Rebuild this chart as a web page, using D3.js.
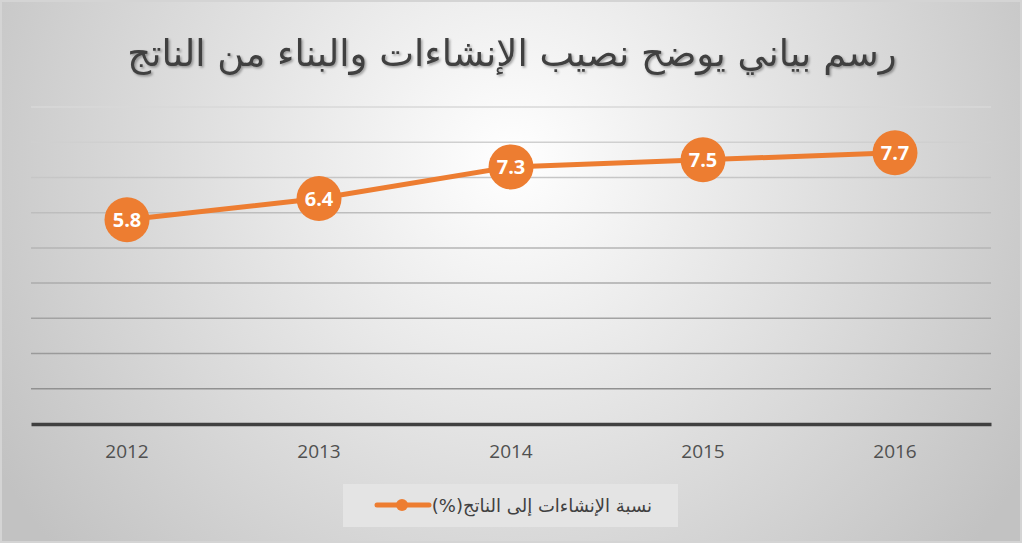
<!DOCTYPE html>
<html><head><meta charset="utf-8">
<script src="https://cdn.jsdelivr.net/npm/d3@7"></script>
<style>html,body{margin:0;padding:0;background:#fff;}svg{display:block;}</style>
</head><body>
<script>
const title = "رسم بياني يوضح نصيب الإنشاءات والبناء من الناتج";
const seriesName = "نسبة الإنشاءات إلى الناتج(%)";
const years = ["2012","2013","2014","2015","2016"];
const values = [5.8, 6.4, 7.3, 7.5, 7.7];
const yTicks = [0,1,2,3,4,5,6,7,8,9];

const W = 1024, H = 545;
const svg = d3.select("body").append("svg").attr("width", W).attr("height", H);
const defs = svg.append("defs");
const rg = defs.append("radialGradient").attr("id","bg").attr("gradientUnits","userSpaceOnUse")
  .attr("cx",512).attr("cy",160).attr("r",600);
rg.append("stop").attr("offset","0%").attr("stop-color","#ffffff");
rg.append("stop").attr("offset","100%").attr("stop-color","#c2c2c2");
const lg = defs.append("linearGradient").attr("id","grid").attr("gradientUnits","userSpaceOnUse")
  .attr("x1",0).attr("y1",100).attr("x2",0).attr("y2",400);
lg.append("stop").attr("offset","0%").attr("stop-color","#dadada");
lg.append("stop").attr("offset","100%").attr("stop-color","#8e8e8e");
const sh = defs.append("filter").attr("id","tsh").attr("x","-5%").attr("y","-20%").attr("width","110%").attr("height","140%");
sh.append("feDropShadow").attr("dx",1.5).attr("dy",1.5).attr("stdDeviation",1).attr("flood-color","#000").attr("flood-opacity",0.35);

svg.append("rect").attr("x",1).attr("y",1).attr("width",1020).attr("height",541)
  .attr("fill","url(#bg)").attr("stroke","#d4d4d4").attr("stroke-width",2);

const x = d3.scaleBand().domain(years).range([31, 991]);
const y = d3.scaleLinear().domain([0, 9]).range([424, 107]);

// gridlines
svg.append("g").selectAll("line").data(yTicks.filter(t => t > 0)).join("line")
  .attr("x1",31).attr("x2",991).attr("y1",d=>y(d)).attr("y2",d=>y(d))
  .attr("stroke","url(#grid)").attr("stroke-width",1.5);

// x axis
const xAxis = svg.append("g").attr("transform","translate(0,424)")
  .call(d3.axisBottom(x).tickSize(0).tickPadding(21));
xAxis.select(".domain").attr("stroke","#404040").attr("stroke-width",3.5);
xAxis.selectAll("text").attr("font-family","'Open Sans', sans-serif").attr("font-size",19).attr("fill","#505050");

// title
svg.append("text").attr("x",512).attr("y",66).attr("text-anchor","middle")
  .attr("direction","rtl")
  .attr("font-family","'DejaVu Sans', sans-serif").attr("font-size",37)
  .attr("fill","#404040").attr("filter","url(#tsh)").text(title);

// line
const line = d3.line().x((d,i)=>x(years[i])+x.bandwidth()/2).y(d=>y(d));
svg.append("path").datum(values).attr("d",line).attr("fill","none")
  .attr("stroke","#ED7D31").attr("stroke-width",5).attr("stroke-linecap","round");

const pts = svg.append("g").selectAll("g").data(values).join("g")
  .attr("transform",(d,i)=>`translate(${x(years[i])+x.bandwidth()/2},${y(d)})`);
pts.append("circle").attr("r",22.5).attr("fill","#ED7D31");
pts.append("text").attr("text-anchor","middle").attr("dy","0.36em")
  .attr("font-family","'Open Sans', sans-serif").attr("font-weight","bold").attr("font-size",20)
  .attr("fill","#fff").text(d=>d.toFixed(1));

// legend
const leg = svg.append("g");
leg.append("rect").attr("x",343).attr("y",484).attr("width",335).attr("height",43).attr("fill","#e4e4e4");
leg.append("line").attr("x1",377).attr("x2",429).attr("y1",505).attr("y2",505)
  .attr("stroke","#ED7D31").attr("stroke-width",5).attr("stroke-linecap","round");
leg.append("circle").attr("cx",402).attr("cy",505).attr("r",6).attr("fill","#ED7D31");
leg.append("text").attr("x",652).attr("y",512).attr("text-anchor","start").attr("direction","rtl")
  .attr("font-family","'DejaVu Sans', sans-serif").attr("font-size",18).attr("fill","#404040").text(seriesName);
</script>
</body></html>
